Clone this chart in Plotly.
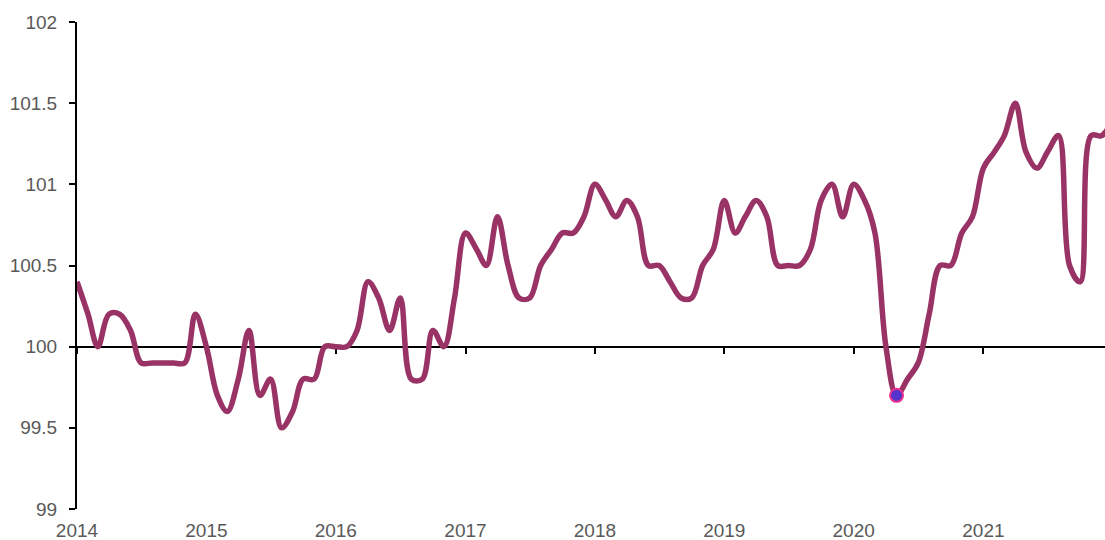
import plotly.graph_objects as go

# Monthly index values, Jan 2014 .. Jan 2022
months = [f"{y}-{m:02d}" for y in range(2014, 2022) for m in range(1, 13)] + ["2022-01"]
values = [
    # 2014
    100.4, 100.2, 100.0, 100.2, 100.2, 100.1, 99.9, 99.9, 99.9, 99.9, 99.9, 100.2,
    # 2015
    100.0, 99.7, 99.6, 99.8, 100.1, 99.7, 99.8, 99.5, 99.6, 99.8, 99.8, 100.0,
    # 2016
    100.0, 100.0, 100.1, 100.4, 100.3, 100.1, 100.3, 99.8, 99.8, 100.1, 100.0, 100.3,
    # 2017
    100.7, 100.6, 100.5, 100.8, 100.5, 100.3, 100.3, 100.5, 100.6, 100.7, 100.7, 100.8,
    # 2018
    101.0, 100.9, 100.8, 100.9, 100.8, 100.5, 100.5, 100.4, 100.3, 100.3, 100.5, 100.6,
    # 2019
    100.9, 100.7, 100.8, 100.9, 100.8, 100.5, 100.5, 100.5, 100.6, 100.9, 101.0, 100.8,
    # 2020
    101.0, 100.9, 100.7, 100.0, 99.7, 99.8, 99.9, 100.2, 100.5, 100.5, 100.7, 100.8,
    # 2021
    101.1, 101.2, 101.3, 101.5, 101.2, 101.1, 101.2, 101.3, 100.5, 100.4, 101.3, 101.3,
    # 2022
    101.4,
]
highlight_month = "2020-05"

year_ticks = [f"{y}-01-01" for y in range(2014, 2022)]
year_labels = [str(y) for y in range(2014, 2022)]
y_ticks = [99, 99.5, 100, 100.5, 101, 101.5, 102]
y_labels = ["99", "99.5", "100", "100.5", "101", "101.5", "102"]

x_range = ["2014-01-01", "2021-12-10"]

LINE_COLOR = "#993366"
FONT = dict(family="Liberation Sans, Arial, sans-serif", size=19, color="#595959")

fig = go.Figure()
fig.add_trace(go.Scatter(
    x=months, y=values, mode="lines",
    line=dict(color=LINE_COLOR, width=5.5, shape="spline", smoothing=1.0),
    hoverinfo="x+y", showlegend=False,
))
hi = months.index(highlight_month)
fig.add_trace(go.Scatter(
    x=[months[hi]], y=[values[hi]], mode="markers",
    marker=dict(size=13, color="#5533CC", line=dict(color="#E8308C", width=2)),
    showlegend=False,
))
# invisible trace on the crossing axis so it renders
fig.add_trace(go.Scatter(x=[months[0]], y=[values[0]], xaxis="x2", mode="markers",
                         marker=dict(opacity=0), hoverinfo="skip", showlegend=False))

fig.update_layout(
    width=1105, height=540,
    margin=dict(l=77, r=0, t=22, b=31),
    paper_bgcolor="white", plot_bgcolor="white",
    font=FONT,
    xaxis=dict(
        type="date", range=x_range, automargin=False,
        tickvals=year_ticks, ticktext=year_labels,
        showgrid=False, zeroline=False, showline=False, ticks="",
        tickfont=FONT, ticklabelstandoff=8,
    ),
    xaxis2=dict(
        type="date", range=x_range, overlaying="x", anchor="free", position=1/3,
        side="bottom", tickvals=year_ticks, showticklabels=False, automargin=False,
        ticks="outside", ticklen=6, tickwidth=2, tickcolor="black",
        showline=True, linewidth=2, linecolor="black",
        showgrid=False, zeroline=False, layer="below traces",
    ),
    yaxis=dict(
        range=[99, 102], tickvals=y_ticks, ticktext=y_labels, automargin=False,
        showgrid=False, zeroline=False,
        showline=True, linewidth=2, linecolor="black",
        ticks="outside", ticklen=6, tickwidth=2, tickcolor="black",
        ticklabelstandoff=8, tickfont=FONT, layer="below traces",
    ),
)

fig.write_html("out.html", config={"displayModeBar": False})

# remove the default 8px page margin so the figure fills the window
with open("out.html", encoding="utf-8") as f:
    html = f.read()
html = html.replace("<body>", '<body style="margin:0;overflow:hidden">', 1)
with open("out.html", "w", encoding="utf-8") as f:
    f.write(html)
